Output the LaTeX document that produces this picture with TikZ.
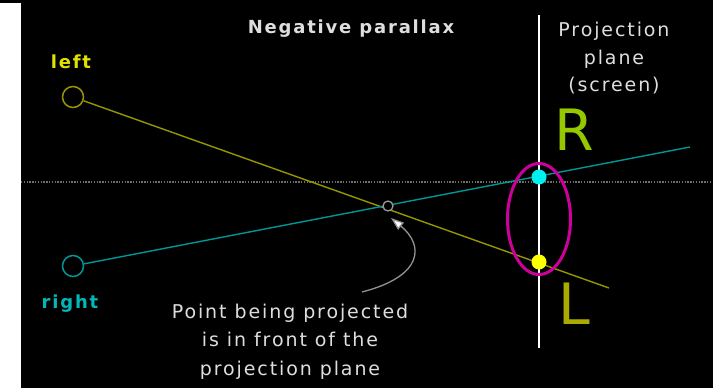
\documentclass[tikz,border=0pt]{standalone}
\usepackage{fontspec}
\usetikzlibrary{shapes.geometric,arrows.meta}
\newfontfamily\diagfont[LetterSpace=10]{DejaVu Sans}
\newfontfamily\bigfont{DejaVu Sans}
\definecolor{oliveline}{RGB}{150,150,0}
\definecolor{leftyellow}{RGB}{225,225,0}
\definecolor{tealline}{RGB}{0,150,150}
\definecolor{rightcyan}{RGB}{0,185,185}
\definecolor{dotcyan}{RGB}{0,240,240}
\definecolor{dotyellow}{RGB}{255,255,0}
\definecolor{ellmag}{RGB}{205,0,155}
\definecolor{Rgreen}{RGB}{150,200,0}
\definecolor{Lolive}{RGB}{170,170,0}
\definecolor{txtgray}{RGB}{222,222,222}
\definecolor{dotgray}{RGB}{110,110,110}
\tikzset{
  eye/.style={circle,draw,line width=1.5pt,minimum size=21pt,inner sep=0pt,fill=black},
  hitdot/.style={circle,minimum size=15pt,inner sep=0pt},
  lbl/.style={inner sep=0pt,text=txtgray},
  ray/.style={line width=1.4pt},
}
\begin{document}
\begin{tikzpicture}[x=1pt,y=-1pt]
\useasboundingbox (0,0) rectangle (713,388);
\fill[black] (0,0) rectangle (713,388);
\fill[white] (0,3) rectangle (21,388);
% dotted horizon
\coordinate (hzA) at (21,182);
\coordinate (hzB) at (713,182);
\draw[dotgray,line width=1.3pt,dash pattern=on 1.3pt off 1.5pt] (hzA) -- (hzB);
% eyes
\node[eye,draw=oliveline] (lcam) at (73,97) {};
\node[eye,draw=tealline] (rcam) at (73,266) {};
\node[anchor=base,inner sep=0pt,text=leftyellow,font=\diagfont\bfseries\fontsize{18}{22}\selectfont] (lefttxt) at (71,68) {left};
\node[anchor=base,inner sep=0pt,text=rightcyan,font=\diagfont\bfseries\fontsize{18}{22}\selectfont] (righttxt) at (70,308) {right};
% rays
\coordinate (lend) at (609,288);
\coordinate (rend) at (690,147);
\draw[ray,oliveline] (lcam) -- (lend);
\draw[ray,tealline] (rcam) -- (rend);
% projection plane
\coordinate (plTop) at (539,15);
\coordinate (plBot) at (539,348);
\draw[white,line width=2.6pt] (plTop) -- (plBot);
% ellipse
\node[ellipse,draw=ellmag,line width=3pt,minimum width=63pt,minimum height=111pt,inner sep=0pt] (ell) at (539,219) {};
% hit dots
\node[hitdot,fill=dotcyan] (rdot) at (539,177) {};
\node[hitdot,fill=dotyellow] (ldot) at (539,262) {};
% projected point
\node[circle,draw=gray!80,fill=black,line width=1.3pt,minimum size=10pt,inner sep=0pt] (pt) at (388,206) {};
% labels
\node[anchor=base,lbl,font=\diagfont\bfseries\fontsize{18}{22}\selectfont] (title) at (351,33) {Negative parallax};
\node[anchor=north,lbl,align=center,font=\diagfont\fontsize{19}{27.5}\selectfont] (plane) at (614,22) {Projection\\plane\\(screen)};
\node[anchor=north,lbl,align=center,font=\diagfont\fontsize{19}{28.5}\selectfont] (note) at (290,303.5) {Point being projected\\is in front of the\\projection plane};
\node[anchor=base,inner sep=0pt,text=Rgreen,font=\bigfont\fontsize{57}{60}\selectfont] (Rl) at (574,150) {R};
\node[anchor=base,inner sep=0pt,text=Lolive,font=\bigfont\fontsize{57}{60}\selectfont] (Ll) at (574,324) {L};
% pointer arrow
\coordinate (arrS) at (362,292);
\coordinate (tip) at (391,218);
\draw[gray!85,line width=1.3pt,-{Triangle[length=13pt,width=9pt,fill=white]}] (arrS) .. controls (424,276) and (424,245) .. (tip);
\end{tikzpicture}
\end{document}
